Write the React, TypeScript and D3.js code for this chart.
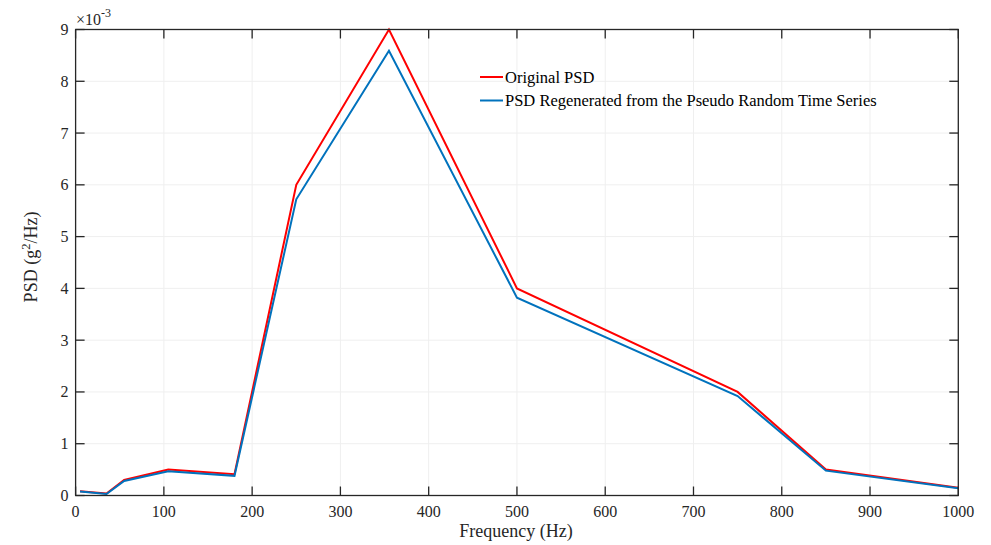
import React from "react";
import * as d3 from "d3";

const freqs = [5, 35, 55, 105, 180, 250, 355, 500, 750, 850, 1000];
const originalPSD = [0.08, 0.04, 0.3, 0.5, 0.41, 6.0, 9.0, 4.0, 2.0, 0.5, 0.15];
const regeneratedPSD = [0.075, 0.03, 0.28, 0.47, 0.38, 5.72, 8.59, 3.82, 1.92, 0.48, 0.14];
const xTicks = [0, 100, 200, 300, 400, 500, 600, 700, 800, 900, 1000];
const yTicks = [0, 1, 2, 3, 4, 5, 6, 7, 8, 9];
const legendLabels = ["Original PSD", "PSD Regenerated from the Pseudo Random Time Series"];

const W = 991, H = 545;
const L = 75.6, R = 958.3, T = 29.5, B = 495.5;
const font = "'Liberation Serif', 'Times New Roman', serif";

export default function App() {
  const x = d3.scaleLinear().domain([0, 1000]).range([L, R]);
  const y = d3.scaleLinear().domain([0, 9]).range([B, T]);
  const line = d3.line<[number, number]>().x(d => x(d[0])).y(d => y(d[1]));
  const red = line(freqs.map((f, i) => [f, originalPSD[i]]))!;
  const blue = line(freqs.map((f, i) => [f, regeneratedPSD[i]]))!;
  const tickLen = 9;
  return (
    <div style={{ position: "fixed", left: 0, top: 0, width: W, height: H, background: "#fff" }}>
      <svg width={W} height={H} style={{ display: "block" }} fontFamily={font}>
        <rect x={0} y={0} width={W} height={H} fill="#fff" />
        {/* grid */}
        {xTicks.map(t => (
          <line key={"gx" + t} x1={x(t)} x2={x(t)} y1={T} y2={B} stroke="#efefef" strokeWidth={1} />
        ))}
        {yTicks.map(t => (
          <line key={"gy" + t} x1={L} x2={R} y1={y(t)} y2={y(t)} stroke="#efefef" strokeWidth={1} />
        ))}
        {/* lines */}
        <path d={red} fill="none" stroke="#ff0000" strokeWidth={2} strokeLinejoin="miter" />
        <path d={blue} fill="none" stroke="#0072bd" strokeWidth={2} strokeLinejoin="miter" />
        {/* box */}
        <rect x={L} y={T} width={R - L} height={B - T} fill="none" stroke="#262626" strokeWidth={1.3} />
        {/* ticks */}
        {xTicks.map(t => (
          <g key={"tx" + t}>
            <line x1={x(t)} x2={x(t)} y1={B} y2={B - tickLen} stroke="#262626" strokeWidth={1.3} />
            <line x1={x(t)} x2={x(t)} y1={T} y2={T + tickLen} stroke="#262626" strokeWidth={1.3} />
            <text x={x(t)} y={B + 21} textAnchor="middle" fontSize={16} fill="#262626">{t}</text>
          </g>
        ))}
        {yTicks.map(t => (
          <g key={"ty" + t}>
            <line x1={L} x2={L + tickLen} y1={y(t)} y2={y(t)} stroke="#262626" strokeWidth={1.3} />
            <line x1={R} x2={R - tickLen} y1={y(t)} y2={y(t)} stroke="#262626" strokeWidth={1.3} />
            <text x={L - 7} y={y(t) + 5.5} textAnchor="end" fontSize={16} fill="#262626">{t}</text>
          </g>
        ))}
        {/* exponent */}
        <text x={76} y={25} fontSize={16} fill="#262626">
          ×10<tspan dy={-8} fontSize={12}>-3</tspan>
        </text>
        {/* axis labels */}
        <text x={516} y={537} textAnchor="middle" fontSize={18} fill="#262626">Frequency (Hz)</text>
        <text transform={`translate(36.5, 257) rotate(-90)`} textAnchor="middle" fontSize={18} fill="#262626">
          PSD (g<tspan dy={-7} fontSize={12.5}>2</tspan><tspan dy={7}>/Hz)</tspan>
        </text>
        {/* legend */}
        {legendLabels.map((lab, i) => (
          <g key={lab}>
            <line x1={480} x2={503} y1={77 + i * 23.5} y2={77 + i * 23.5} stroke={i === 0 ? "#ff0000" : "#0072bd"} strokeWidth={2} />
            <text x={505} y={82.5 + i * 23.5} fontSize={16.5} fill="#000">{lab}</text>
          </g>
        ))}
      </svg>
    </div>
  );
}
